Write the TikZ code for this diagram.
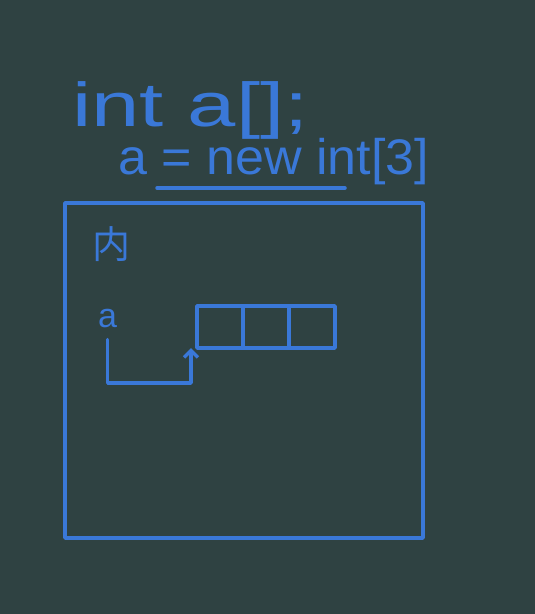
\documentclass[tikz,border=0pt]{standalone}
\usepackage{fontspec}
\setmainfont{Liberation Sans}
\newfontfamily\cjk{Noto Sans CJK SC}
\usetikzlibrary{positioning,arrows.meta,calc}
\definecolor{board}{RGB}{47,66,66}
\definecolor{ink}{RGB}{58,120,216}

\begin{document}
\begin{tikzpicture}[
    x=1pt, y=-1pt,
    pen/.style={draw=ink, line width=3.5pt, line cap=round, line join=round},
    ptr/.style={pen, -{Straight Barb[length=7pt, width=14pt]}},
    chalk/.style={text=ink, inner sep=0pt, anchor=base west},
    cell/.style={pen, minimum width=46pt, minimum height=42pt, inner sep=0pt, outer sep=0pt},
  ]
  \fill[board] (0,0) rectangle (535,614);
  \useasboundingbox (0,0) rectangle (535,614);

  % code on the board
  \node[chalk, font=\fontsize{62}{62}\selectfont] (decl) at (72,126) {\scalebox{1.4}[1]{int a[];}};
  \node[chalk, font=\fontsize{50}{50}\selectfont] (alloc) at (118,174) {\scalebox{1.04}[1]{a = new int[3]}};
  \draw[pen] (157,188) -- (345,188);

  % memory frame
  \draw[pen] (65,203) rectangle (423,538);
  \node[chalk, font=\cjk\fontsize{38}{38}\selectfont] (mem) at (92,258) {内};

  % variable a and its array
  \node[chalk, font=\fontsize{34}{34}\selectfont] (a) at (98,327) {a};
  \node[cell] (cell1) at (220,327) {};
  \node[cell, right=0pt of cell1] (cell2) {};
  \node[cell, right=0pt of cell2] (cell3) {};
  \coordinate (turn) at (150,383);
  \draw[ptr] ([yshift=-12pt]a.south) |- (turn) -| ([xshift=-6pt]cell1.south west);
\end{tikzpicture}
\end{document}
